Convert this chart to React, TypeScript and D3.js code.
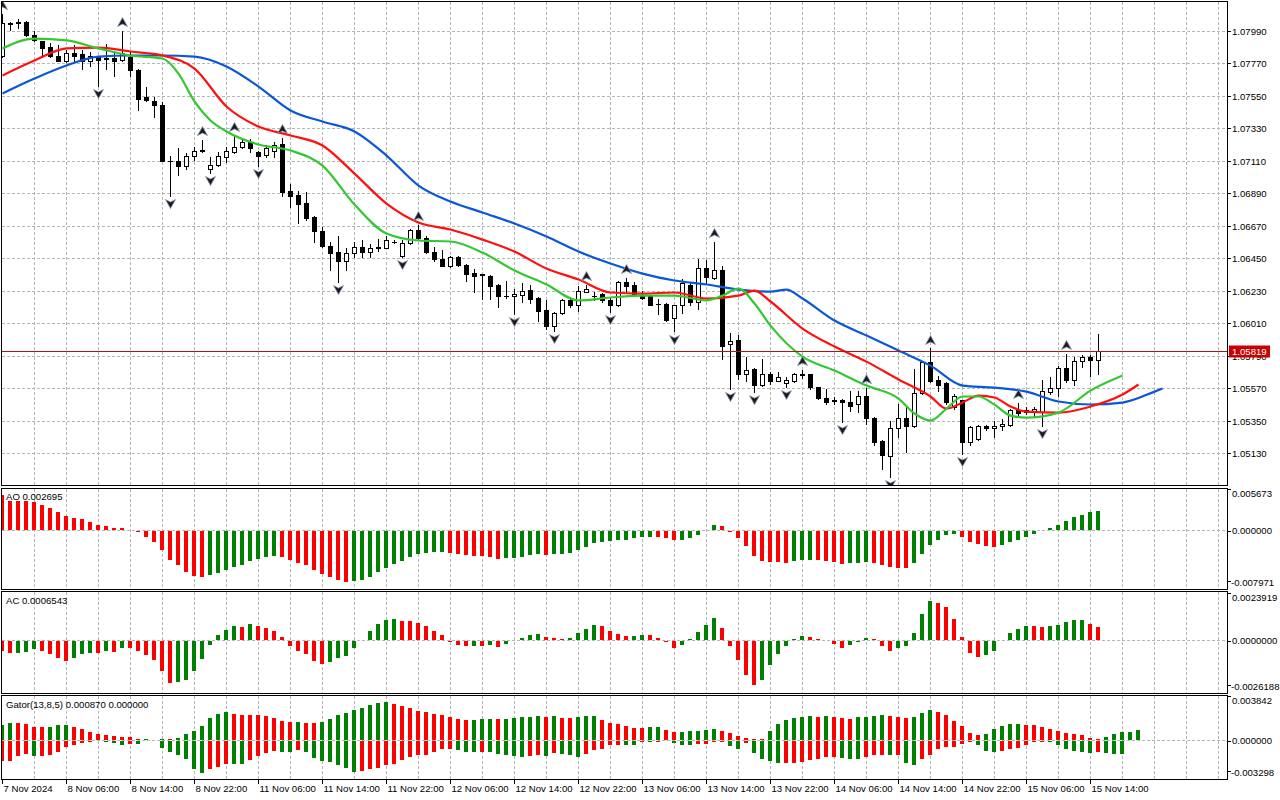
import { useEffect, useRef } from 'react';
import * as d3 from 'd3';

// EURUSD H1 - open, high, low, close
type Candle = [number, number, number, number];

const candles: Candle[] = [
    [1.07822, 1.08106, 1.07815, 1.08039], [1.08039, 1.08052, 1.07998, 1.08037], [1.08052, 1.08066, 1.08005, 1.08039],
    [1.08052, 1.08059, 1.07951, 1.07958], [1.07964, 1.07985, 1.07917, 1.07924], [1.07917, 1.07920, 1.07815, 1.07876],
    [1.07883, 1.07910, 1.07815, 1.07822], [1.07822, 1.07890, 1.07782, 1.07788], [1.07788, 1.07856, 1.07775, 1.07842],
    [1.07842, 1.07890, 1.07782, 1.07822], [1.07829, 1.07856, 1.07734, 1.07788], [1.07788, 1.07849, 1.07754, 1.07822],
    [1.07809, 1.07822, 1.07619, 1.07795], [1.07802, 1.07903, 1.07734, 1.07800], [1.07802, 1.07836, 1.07680, 1.07788],
    [1.07795, 1.07991, 1.07788, 1.07842], [1.07815, 1.07849, 1.07680, 1.07721], [1.07727, 1.07730, 1.07450, 1.07531],
    [1.07538, 1.07612, 1.07511, 1.07524], [1.07511, 1.07538, 1.07409, 1.07490], [1.07490, 1.07504, 1.07105, 1.07111],
    [1.07111, 1.07145, 1.06874, 1.07105], [1.07105, 1.07199, 1.07010, 1.07071], [1.07071, 1.07159, 1.07057, 1.07145],
    [1.07145, 1.07206, 1.07118, 1.07179], [1.07179, 1.07253, 1.07172, 1.07183], [1.07057, 1.07138, 1.07030, 1.07084],
    [1.07084, 1.07172, 1.07077, 1.07145], [1.07138, 1.07206, 1.07098, 1.07179], [1.07172, 1.07281, 1.07165, 1.07206],
    [1.07206, 1.07253, 1.07199, 1.07240], [1.07240, 1.07260, 1.07172, 1.07193], [1.07172, 1.07179, 1.07077, 1.07145],
    [1.07152, 1.07213, 1.07138, 1.07193], [1.07179, 1.07240, 1.07138, 1.07213], [1.07226, 1.07267, 1.06874, 1.06901],
    [1.06908, 1.06955, 1.06800, 1.06874], [1.06881, 1.06908, 1.06685, 1.06820], [1.06827, 1.06895, 1.06712, 1.06725],
    [1.06732, 1.06739, 1.06563, 1.06631], [1.06637, 1.06664, 1.06529, 1.06532], [1.06536, 1.06563, 1.06373, 1.06482],
    [1.06495, 1.06597, 1.06292, 1.06428], [1.06434, 1.06516, 1.06367, 1.06482], [1.06482, 1.06563, 1.06461, 1.06529],
    [1.06529, 1.06570, 1.06461, 1.06495], [1.06495, 1.06549, 1.06461, 1.06516], [1.06522, 1.06583, 1.06502, 1.06529],
    [1.06522, 1.06597, 1.06516, 1.06570], [1.06563, 1.06570, 1.06556, 1.06560], [1.06468, 1.06570, 1.06461, 1.06556],
    [1.06556, 1.06651, 1.06549, 1.06644], [1.06644, 1.06678, 1.06576, 1.06590], [1.06590, 1.06597, 1.06482, 1.06495],
    [1.06495, 1.06529, 1.06434, 1.06448], [1.06448, 1.06509, 1.06394, 1.06397], [1.06394, 1.06468, 1.06390, 1.06461],
    [1.06461, 1.06468, 1.06400, 1.06407], [1.06407, 1.06410, 1.06299, 1.06346], [1.06353, 1.06380, 1.06224, 1.06333],
    [1.06340, 1.06346, 1.06177, 1.06336], [1.06333, 1.06336, 1.06177, 1.06265], [1.06272, 1.06275, 1.06123, 1.06191],
    [1.06197, 1.06299, 1.06184, 1.06191], [1.06197, 1.06245, 1.06075, 1.06211], [1.06204, 1.06285, 1.06157, 1.06231],
    [1.06238, 1.06272, 1.06150, 1.06177], [1.06184, 1.06187, 1.06028, 1.06096], [1.06102, 1.06164, 1.05974, 1.05994],
    [1.05994, 1.06089, 1.05960, 1.06082], [1.06082, 1.06177, 1.06075, 1.06164], [1.06170, 1.06177, 1.06123, 1.06130],
    [1.06130, 1.06265, 1.06096, 1.06231], [1.06224, 1.06272, 1.06218, 1.06245], [1.06197, 1.06224, 1.06170, 1.06194],
    [1.06211, 1.06214, 1.06157, 1.06164], [1.06170, 1.06184, 1.06089, 1.06130], [1.06130, 1.06299, 1.06126, 1.06292],
    [1.06292, 1.06319, 1.06224, 1.06265], [1.06272, 1.06292, 1.06197, 1.06204], [1.06204, 1.06231, 1.06177, 1.06184],
    [1.06191, 1.06197, 1.06130, 1.06136], [1.06143, 1.06177, 1.06075, 1.06140], [1.06143, 1.06150, 1.06028, 1.06035],
    [1.06042, 1.06136, 1.05954, 1.06130], [1.06130, 1.06312, 1.06082, 1.06279], [1.06272, 1.06279, 1.06130, 1.06157],
    [1.06157, 1.06448, 1.06109, 1.06387], [1.06387, 1.06441, 1.06279, 1.06326], [1.06319, 1.06563, 1.06312, 1.06367],
    [1.06367, 1.06394, 1.05771, 1.05859], [1.05866, 1.05947, 1.05568, 1.05893], [1.05899, 1.05927, 1.05635, 1.05663],
    [1.05663, 1.05784, 1.05622, 1.05696], [1.05703, 1.05710, 1.05547, 1.05595], [1.05595, 1.05771, 1.05588, 1.05663],
    [1.05669, 1.05683, 1.05602, 1.05622], [1.05622, 1.05683, 1.05618, 1.05649], [1.05608, 1.05649, 1.05581, 1.05629],
    [1.05622, 1.05676, 1.05615, 1.05669], [1.05663, 1.05696, 1.05642, 1.05660], [1.05663, 1.05669, 1.05568, 1.05575],
    [1.05575, 1.05581, 1.05500, 1.05507], [1.05507, 1.05568, 1.05466, 1.05480], [1.05487, 1.05514, 1.05466, 1.05484],
    [1.05493, 1.05500, 1.05344, 1.05480], [1.05480, 1.05554, 1.05419, 1.05453], [1.05460, 1.05554, 1.05412, 1.05520],
    [1.05520, 1.05574, 1.05331, 1.05371], [1.05371, 1.05375, 1.05189, 1.05209], [1.05216, 1.05222, 1.05026, 1.05121],
    [1.05114, 1.05351, 1.04972, 1.05304], [1.05304, 1.05466, 1.05243, 1.05371], [1.05371, 1.05446, 1.05141, 1.05317],
    [1.05317, 1.05703, 1.05310, 1.05541], [1.05541, 1.05757, 1.05534, 1.05750], [1.05750, 1.05839, 1.05615, 1.05622],
    [1.05629, 1.05656, 1.05554, 1.05595], [1.05608, 1.05615, 1.05466, 1.05480], [1.05446, 1.05534, 1.05432, 1.05520],
    [1.05487, 1.05493, 1.05128, 1.05209], [1.05209, 1.05317, 1.05189, 1.05310], [1.05229, 1.05324, 1.05222, 1.05317],
    [1.05317, 1.05324, 1.05290, 1.05304], [1.05304, 1.05351, 1.05243, 1.05317], [1.05317, 1.05365, 1.05290, 1.05331],
    [1.05324, 1.05432, 1.05317, 1.05426], [1.05426, 1.05473, 1.05392, 1.05405], [1.05426, 1.05446, 1.05398, 1.05412],
    [1.05412, 1.05446, 1.05385, 1.05432], [1.05412, 1.05629, 1.05317, 1.05554], [1.05547, 1.05649, 1.05534, 1.05574],
    [1.05574, 1.05723, 1.05520, 1.05710], [1.05710, 1.05805, 1.05615, 1.05629], [1.05629, 1.05784, 1.05595, 1.05757],
    [1.05757, 1.05798, 1.05717, 1.05784], [1.05784, 1.05795, 1.05656, 1.05764], [1.05764, 1.05940, 1.05669, 1.05819],
];

const upFractals = [0, 15, 25, 29, 35, 52, 73, 78, 89, 100, 108, 116, 127, 133];
const downFractals = [12, 21, 26, 32, 42, 50, 64, 69, 76, 84, 91, 94, 98, 105, 111, 120, 130];

// Alligator lines, read as [bar, price]
const jaw: [number, number][] = [
    [0, 1.07565], [4, 1.07666], [8, 1.07754], [12, 1.07815], [16, 1.07822], [20, 1.07822], [24, 1.07815],
    [28, 1.07748], [32, 1.07612], [36, 1.07450], [40, 1.07375], [44, 1.07308], [48, 1.07145], [52, 1.06942],
    [56, 1.06834], [60, 1.06759], [64, 1.06685], [68, 1.06597], [72, 1.06495], [76, 1.06414], [80, 1.06346],
    [84, 1.06299], [88, 1.06272], [92, 1.06238], [96, 1.06224], [98, 1.06238], [100, 1.06177], [104, 1.06028],
    [108, 1.05927], [112, 1.05825], [116, 1.05723], [120, 1.05588], [124, 1.05574], [128, 1.05547],
    [132, 1.05480], [136, 1.05460], [140, 1.05473], [144, 1.05547], [145, 1.05568],
];
const teeth: [number, number][] = [
    [0, 1.07687], [4, 1.07788], [8, 1.07870], [12, 1.07876], [16, 1.07849], [20, 1.07822], [24, 1.07734],
    [28, 1.07477], [32, 1.07341], [36, 1.07281], [40, 1.07213], [44, 1.07023], [48, 1.06820], [52, 1.06692],
    [56, 1.06644], [60, 1.06576], [64, 1.06495], [68, 1.06380], [72, 1.06306], [76, 1.06218], [80, 1.06211],
    [84, 1.06218], [88, 1.06177], [92, 1.06197], [94, 1.06231], [96, 1.06157], [100, 1.05974], [104, 1.05852],
    [108, 1.05750], [112, 1.05629], [116, 1.05514], [118, 1.05432], [120, 1.05473], [122, 1.05520],
    [124, 1.05507], [126, 1.05446], [128, 1.05412], [132, 1.05405], [136, 1.05446], [140, 1.05527], [142, 1.05595],
];
const lips: [number, number][] = [
    [0, 1.07870], [4, 1.07937], [8, 1.07924], [12, 1.07870], [16, 1.07822], [20, 1.07802], [22, 1.07700],
    [24, 1.07511], [26, 1.07382], [28, 1.07308], [32, 1.07220], [36, 1.07179], [40, 1.07077], [44, 1.06813],
    [48, 1.06617], [52, 1.06570], [56, 1.06563], [60, 1.06488], [64, 1.06367], [68, 1.06272], [72, 1.06164],
    [76, 1.06184], [80, 1.06197], [84, 1.06197], [88, 1.06164], [90, 1.06197], [92, 1.06245], [94, 1.06143],
    [96, 1.05994], [100, 1.05784], [104, 1.05690], [108, 1.05588], [112, 1.05500], [114, 1.05399],
    [116, 1.05351], [118, 1.05432], [120, 1.05514], [122, 1.05514], [124, 1.05459], [126, 1.05385],
    [128, 1.05371], [132, 1.05405], [136, 1.05554], [140, 1.05656],
];

const ao = [
    0.00482, 0.00400, 0.00398, 0.00396, 0.00393, 0.00345, 0.00308, 0.00253, 0.00193, 0.00170,
    0.00147, 0.00115, 0.00078, 0.00060, 0.00032, 0.00023, 0.00002, -0.00010, -0.00078, -0.00152,
    -0.00262, -0.00400, -0.00473, -0.00561, -0.00620, -0.00634, -0.00606, -0.00575, -0.00537, -0.00496,
    -0.00469, -0.00413, -0.00382, -0.00354, -0.00345, -0.00358, -0.00400, -0.00437, -0.00469, -0.00537,
    -0.00588, -0.00634, -0.00675, -0.00699, -0.00689, -0.00675, -0.00634, -0.00561, -0.00505, -0.00450,
    -0.00413, -0.00358, -0.00313, -0.00295, -0.00291, -0.00287, -0.00299, -0.00313, -0.00331, -0.00336,
    -0.00345, -0.00354, -0.00382, -0.00368, -0.00366, -0.00354, -0.00331, -0.00318, -0.00322, -0.00313,
    -0.00311, -0.00299, -0.00266, -0.00216, -0.00170, -0.00147, -0.00138, -0.00124, -0.00115, -0.00092,
    -0.00083, -0.00078, -0.00083, -0.00101, -0.00124, -0.00115, -0.00092, -0.00055, 0.00005, 0.00069,
    0.00060, -0.00005, -0.00101, -0.00207, -0.00345, -0.00413, -0.00427, -0.00430, -0.00437, -0.00413,
    -0.00400, -0.00395, -0.00400, -0.00413, -0.00427, -0.00450, -0.00445, -0.00437, -0.00427, -0.00441,
    -0.00469, -0.00491, -0.00505, -0.00510, -0.00437, -0.00313, -0.00193, -0.00124, -0.00055, -0.00037,
    -0.00083, -0.00147, -0.00175, -0.00207, -0.00221, -0.00193, -0.00152, -0.00115, -0.00083, -0.00037,
    0.00002, 0.00028, 0.00069, 0.00129, 0.00175, 0.00215, 0.00245, 0.002695,
];

const ac = [
    -0.00051, -0.00059, -0.00057, -0.00056, -0.00039, -0.00047, -0.00067, -0.00084, -0.00101, -0.00084,
    -0.00067, -0.00059, -0.00060, -0.00051, -0.00056, -0.00034, -0.00035, -0.00047, -0.00071, -0.00096,
    -0.00152, -0.00211, -0.00206, -0.00197, -0.00152, -0.00089, -0.00017, 0.00025, 0.00051, 0.00071,
    0.00067, 0.00081, 0.00071, 0.00062, 0.00046, 0.00017, -0.00025, -0.00051, -0.00064, -0.00101,
    -0.00113, -0.00106, -0.00084, -0.00073, -0.00034, 0.00003, 0.00046, 0.00081, 0.00101, 0.00106,
    0.00096, 0.00095, 0.00088, 0.00071, 0.00047, 0.00025, -0.00003, -0.00017, -0.00025, -0.00024,
    -0.00026, -0.00017, -0.00030, -0.00013, 0.00001, 0.00013, 0.00025, 0.00030, 0.00017, 0.00012,
    0.00007, 0.00012, 0.00037, 0.00059, 0.00079, 0.00071, 0.00046, 0.00030, 0.00020, 0.00024,
    0.00026, 0.00025, 0.00012, -0.00005, -0.00034, -0.00020, 0.00008, 0.00042, 0.00076, 0.00113,
    0.00062, -0.00022, -0.00093, -0.00172, -0.00223, -0.00197, -0.00121, -0.00064, -0.00025, 0.00005,
    0.00022, 0.00015, 0.00005, -0.00001, -0.00012, -0.00034, -0.00017, -0.00002, 0.00012, 0.00005,
    -0.00022, -0.00047, -0.00034, -0.00022, 0.00037, 0.00132, 0.00197, 0.00191, 0.00167, 0.00106,
    0.00015, -0.00059, -0.00079, -0.00071, -0.00051, 0.00001, 0.00037, 0.00059, 0.00071, 0.00070,
    0.00066, 0.00071, 0.00076, 0.00093, 0.00101, 0.00102, 0.00081, 0.0006543,
];

// Gator: upper = |jaw - teeth|, lower = |teeth - lips| (drawn below zero)
const gatorUp = [
    0.00131, 0.00151, 0.00145, 0.00137, 0.00116, 0.00115, 0.00117, 0.00131, 0.00132, 0.00111,
    0.00096, 0.00072, 0.00052, 0.00044, 0.00035, 0.00024, 0.00023, 0.00011, 0.00012, 0.00002,
    0.00011, 0.00010, 0.00020, 0.00052, 0.00081, 0.00122, 0.00189, 0.00226, 0.00246, 0.00226,
    0.00220, 0.00219, 0.00217, 0.00209, 0.00189, 0.00168, 0.00159, 0.00160, 0.00151, 0.00145,
    0.00159, 0.00183, 0.00218, 0.00238, 0.00261, 0.00281, 0.00305, 0.00325, 0.00334, 0.00311,
    0.00296, 0.00276, 0.00255, 0.00246, 0.00226, 0.00218, 0.00198, 0.00183, 0.00174, 0.00176,
    0.00181, 0.00183, 0.00182, 0.00184, 0.00194, 0.00199, 0.00200, 0.00209, 0.00200, 0.00209,
    0.00195, 0.00194, 0.00203, 0.00207, 0.00209, 0.00174, 0.00151, 0.00137, 0.00125, 0.00107,
    0.00102, 0.00111, 0.00112, 0.00087, 0.00072, 0.00074, 0.00076, 0.00081, 0.00087, 0.00093,
    0.00078, 0.00058, 0.00035, 0.00020, 0.00009, 0.00007, 0.00078, 0.00139, 0.00174, 0.00189,
    0.00200, 0.00209, 0.00200, 0.00209, 0.00200, 0.00189, 0.00188, 0.00198, 0.00203, 0.00212,
    0.00218, 0.00212, 0.00198, 0.00189, 0.00198, 0.00233, 0.00259, 0.00241, 0.00218, 0.00165,
    0.00122, 0.00064, 0.00044, 0.00052, 0.00093, 0.00122, 0.00142, 0.00144, 0.00131, 0.00130,
    0.00111, 0.00093, 0.00078, 0.00064, 0.00052, 0.00044, 0.00015, 0.00009, 0.00029, 0.00052,
    0.00067, 0.00070, 0.00087,
];
const gatorDown = [
    0.00177, 0.00174, 0.00131, 0.00111, 0.00131, 0.00130, 0.00122, 0.00093, 0.00052, 0.00035,
    0.00015, 0.00006, 0.00003, 0.00009, 0.00015, 0.00035, 0.00024, 0.00025, 0.00003, 0.00001,
    0.00058, 0.00093, 0.00122, 0.00159, 0.00246, 0.00276, 0.00246, 0.00224, 0.00198, 0.00199,
    0.00200, 0.00165, 0.00131, 0.00107, 0.00087, 0.00093, 0.00094, 0.00078, 0.00096, 0.00145,
    0.00174, 0.00180, 0.00209, 0.00233, 0.00270, 0.00261, 0.00246, 0.00233, 0.00209, 0.00196,
    0.00165, 0.00137, 0.00122, 0.00121, 0.00096, 0.00072, 0.00067, 0.00078, 0.00093, 0.00094,
    0.00092, 0.00093, 0.00111, 0.00125, 0.00131, 0.00137, 0.00126, 0.00125, 0.00126, 0.00102,
    0.00116, 0.00125, 0.00137, 0.00116, 0.00081, 0.00067, 0.00037, 0.00030, 0.00037, 0.00038,
    0.00009, 0.00010, 0.00004, 0.00003, 0.00015, 0.00037, 0.00038, 0.00029, 0.00028, 0.00009,
    0.00004, 0.00044, 0.00072, 0.00015, 0.00102, 0.00154, 0.00174, 0.00194, 0.00189, 0.00187,
    0.00183, 0.00168, 0.00159, 0.00137, 0.00135, 0.00145, 0.00154, 0.00155, 0.00139, 0.00122,
    0.00121, 0.00125, 0.00119, 0.00194, 0.00206, 0.00154, 0.00119, 0.00072, 0.00050, 0.00048,
    0.00024, 0.00009, 0.00037, 0.00087, 0.00093, 0.00087, 0.00072, 0.00058, 0.00037, 0.00009,
    0.00004, 0.00009, 0.00037, 0.00067, 0.00087, 0.00098, 0.00100, 0.00096, 0.00105, 0.00109,
    0.00116, 0, 0,
];

const priceTicks = [1.0799, 1.0777, 1.0755, 1.0733, 1.0711, 1.0689, 1.0667, 1.0645, 1.0623, 1.0601, 1.0579, 1.0557, 1.0535, 1.0513];
const priceRange = [1.04915, 1.08191];
const aoRange = [-0.007971, 0.005673];
const acRange = [-0.0026188, 0.0023919];
const gatorRange = [-0.003298, 0.003842];
const lastPrice = 1.05819;

// one label every 8 bars
const timeLabels = [
    '7 Nov 2024', '8 Nov 06:00', '8 Nov 14:00', '8 Nov 22:00', '11 Nov 06:00', '11 Nov 14:00',
    '11 Nov 22:00', '12 Nov 06:00', '12 Nov 14:00', '12 Nov 22:00', '13 Nov 06:00', '13 Nov 14:00',
    '13 Nov 22:00', '14 Nov 06:00', '14 Nov 14:00', '14 Nov 22:00', '15 Nov 06:00', '15 Nov 14:00',
];

const FONT = '"Liberation Sans", Arial, sans-serif';
const GREEN = '#008000';
const RED = '#ff0000';

export default function App() {
    const svgRef = useRef<SVGSVGElement>(null);

    useEffect(() => {
        if (!svgRef.current) return;
        const svg = d3.select(svgRef.current);
        svg.selectAll('*').remove();

        const right = 1227;
        const panels = {
            main: { top: 1, bottom: 485 },
            ao: { top: 488, bottom: 589 },
            ac: { top: 591, bottom: 693 },
            gator: { top: 695, bottom: 779 },
        };

        const x = d3.scaleLinear().domain([0, 1]).range([2, 10]);
        const y = d3.scaleLinear().domain(priceRange).range([485, 1]);
        const yAO = d3.scaleLinear().domain(aoRange).range([588, 489]);
        const yAC = d3.scaleLinear().domain(acRange).range([692, 593]);
        const yG = d3.scaleLinear().domain(gatorRange).range([778, 696]);

        svg.append('rect').attr('width', 1280).attr('height', 800).attr('fill', '#fff');

        const defs = svg.append('defs');
        Object.entries(panels).forEach(([k, p]) => {
            defs.append('clipPath').attr('id', `clip-${k}`)
                .append('rect').attr('x', 2).attr('y', p.top + 1).attr('width', right - 2).attr('height', p.bottom - p.top - 1);
        });

        // --- grid (two-tone dashes) ---
        const grid = svg.append('g').attr('shape-rendering', 'crispEdges');
        const gridLine = (x1: number, y1: number, x2: number, y2: number) => {
            grid.append('line').attr('x1', x1).attr('y1', y1).attr('x2', x2).attr('y2', y2)
                .attr('stroke', '#c6a6c6').attr('stroke-dasharray', '3,7');
            grid.append('line').attr('x1', x1).attr('y1', y1).attr('x2', x2).attr('y2', y2)
                .attr('stroke', '#a6c6a6').attr('stroke-dasharray', '3,7').attr('stroke-dashoffset', 5);
        };
        priceTicks.forEach(p => {
            const yy = Math.round(y(p)) + 0.5;
            gridLine(2, yy, right, yy);
        });
        for (let k = 1; k <= 38; k++) {
            const xx = x(4 * k) + 0.5;
            Object.values(panels).forEach(p => gridLine(xx, p.top + 1, xx, p.bottom));
        }
        [[yAO, panels.ao], [yAC, panels.ac], [yG, panels.gator]].forEach(([s]: any) => {
            const yy = Math.round(s(0)) + 0.5;
            gridLine(2, yy, right, yy);
        });

        // --- candles ---
        const main = svg.append('g').attr('clip-path', 'url(#clip-main)').attr('shape-rendering', 'crispEdges');
        candles.forEach(([o, h, l, c], i) => {
            const cx = x(i);
            main.append('line')
                .attr('x1', cx + 0.5).attr('x2', cx + 0.5)
                .attr('y1', Math.round(y(h))).attr('y2', Math.round(y(l)) + 1)
                .attr('stroke', '#000');
            const yTop = Math.round(y(Math.max(o, c)));
            const yBot = Math.round(y(Math.min(o, c)));
            if (yBot - yTop < 1) {
                main.append('rect').attr('x', cx - 2).attr('y', yTop).attr('width', 5).attr('height', 1).attr('fill', '#000');
            } else if (c >= o) {
                main.append('rect').attr('x', cx - 1.5).attr('y', yTop + 0.5).attr('width', 4).attr('height', yBot - yTop)
                    .attr('fill', '#fff').attr('stroke', '#000');
            } else {
                main.append('rect').attr('x', cx - 2).attr('y', yTop).attr('width', 5).attr('height', yBot - yTop + 1)
                    .attr('fill', '#000');
            }
        });

        // --- alligator ---
        const line = d3.line<[number, number]>()
            .x(d => x(d[0]) + 0.5)
            .y(d => y(d[1]))
            .curve(d3.curveMonotoneX);
        const gl = svg.append('g').attr('clip-path', 'url(#clip-main)');
        [[jaw, '#0a58d6'], [teeth, '#ff1010'], [lips, '#32c832']].forEach(([data, color]: any) => {
            gl.append('path').attr('d', line(data)).attr('fill', 'none')
                .attr('stroke', color).attr('stroke-width', 2.2).attr('stroke-linejoin', 'round');
        });

        // --- fractals ---
        const fr = svg.append('g').attr('clip-path', 'url(#clip-main)');
        upFractals.forEach(i => {
            fr.append('path').attr('d', 'M0,-5L5,4L0,1.5L-5,4Z')
                .attr('transform', `translate(${x(i) + 0.5},${y(candles[i][1]) - 8})`)
                .attr('fill', '#1a1a1a').attr('stroke', '#8a98b8').attr('stroke-width', 0.8);
        });
        downFractals.forEach(i => {
            fr.append('path').attr('d', 'M0,5L5,-4L0,-1.5L-5,-4Z')
                .attr('transform', `translate(${x(i) + 0.5},${y(candles[i][2]) + 8})`)
                .attr('fill', '#1a1a1a').attr('stroke', '#8a98b8').attr('stroke-width', 0.8);
        });

        // --- current price line ---
        const yLast = Math.round(y(lastPrice)) + 0.5;
        svg.append('line').attr('x1', 2).attr('x2', right).attr('y1', yLast).attr('y2', yLast)
            .attr('stroke', '#a81818').attr('shape-rendering', 'crispEdges');

        // --- histograms ---
        const colorFor = (vals: number[], i: number, up: string, down: string) => {
            const j = i === 0 ? 1 : i;
            return vals[j] >= vals[j - 1] ? up : down;
        };
        const hist = (key: string, vals: number[], s: d3.ScaleLinear<number, number>, sign: number) => {
            const g = svg.append('g').attr('clip-path', `url(#clip-${key})`).attr('shape-rendering', 'crispEdges');
            const z = Math.round(s(0));
            vals.forEach((v, i) => {
                const yy = Math.round(s(sign * v));
                const top = Math.min(yy, z);
                const h = Math.abs(yy - z);
                if (h < 1) return;
                g.append('rect').attr('x', x(i) - 2).attr('y', top + (yy > z ? 1 : 0)).attr('width', 4).attr('height', h)
                    .attr('fill', colorFor(vals, i, GREEN, RED));
            });
        };
        hist('ao', ao, yAO, 1);
        hist('ac', ac, yAC, 1);
        hist('gator', gatorUp, yG, 1);
        hist('gator', gatorDown, yG, -1);

        // --- frames ---
        const frames = svg.append('g').attr('shape-rendering', 'crispEdges');
        Object.values(panels).forEach(p => {
            frames.append('rect').attr('x', 1.5).attr('y', p.top + 0.5).attr('width', right - 1.5).attr('height', p.bottom - p.top)
                .attr('fill', 'none').attr('stroke', '#000');
        });

        const txt = (xx: number, yy: number, s: string, color = '#000') =>
            svg.append('text').attr('x', xx).attr('y', yy).text(s)
                .attr('font-family', FONT).attr('font-size', 9.6).attr('fill', color);

        // price axis
        priceTicks.forEach(p => {
            const yy = Math.round(y(p)) + 0.5;
            frames.append('line').attr('x1', right).attr('x2', right + 4).attr('y1', yy).attr('y2', yy).attr('stroke', '#000');
            txt(1232, yy + 3.5, p.toFixed(5));
        });
        svg.append('rect').attr('x', 1229).attr('y', yLast - 6).attr('width', 41).attr('height', 12).attr('fill', '#c80000');
        txt(1232, yLast + 3.5, lastPrice.toFixed(5), '#fff');

        // sub-panel scales
        const subScale = (s: d3.ScaleLinear<number, number>, range: number[], digits: number) => {
            const [lo, hi] = range;
            const yTop = s(hi) + 0.5;
            const yZero = Math.round(s(0)) + 0.5;
            const yBot = s(lo) - 5.5;
            [yTop - 0.5, yZero, yBot - 2].forEach(yy => {
                frames.append('line').attr('x1', right).attr('x2', right + 4).attr('y1', Math.round(yy) + 0.5).attr('y2', Math.round(yy) + 0.5).attr('stroke', '#000');
            });
            txt(1232, yTop + 7, hi.toFixed(digits));
            txt(1232, yZero + 3.5, (0).toFixed(digits));
            txt(1231, yBot + 3.5, lo.toFixed(digits));
        };
        subScale(yAO, aoRange, 6);
        subScale(yAC, acRange, 7);
        subScale(yG, gatorRange, 6);

        // panel titles
        txt(6, 500, `AO ${ao[ao.length - 1].toFixed(6)}`);
        txt(6, 604, `AC ${ac[ac.length - 1].toFixed(7)}`);
        txt(6, 708, `Gator(13,8,5) ${gatorUp[gatorUp.length - 1].toFixed(6)} ${gatorDown[gatorDown.length - 1].toFixed(6)}`);

        // time axis
        timeLabels.forEach((label, k) => {
            const xx = x(8 * k) + 0.5;
            frames.append('line').attr('x1', xx).attr('x2', xx).attr('y1', 779).attr('y2', 784).attr('stroke', '#000');
            txt(xx + 1, 792, label);
        });
    }, []);

    return (
        <div style={{ position: 'absolute', left: 0, top: 0 }}>
            <svg ref={svgRef} width={1280} height={800} style={{ display: 'block' }} />
        </div>
    );
}
